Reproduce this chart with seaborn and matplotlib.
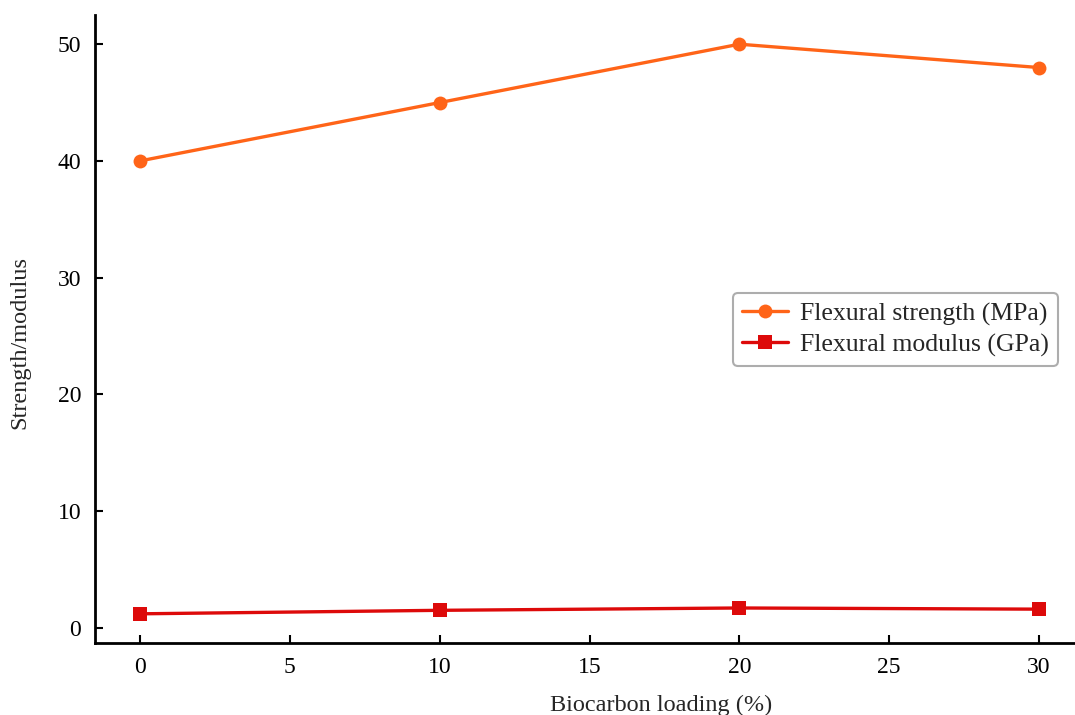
import matplotlib
matplotlib.use("Agg")
import matplotlib.pyplot as plt
import seaborn as sns
import pandas as pd

loading = [0, 10, 20, 30]
strength = [40.0, 45.0, 50.0, 48.0]
modulus = [1.2, 1.5, 1.7, 1.6]
series_names = ["Flexural strength (MPa)", "Flexural modulus (GPa)"]
x_ticks = [0, 5, 10, 15, 20, 25, 30]
y_ticks = [0, 10, 20, 30, 40, 50]

sns.set_style("white")
plt.rcParams["font.family"] = ["Liberation Serif", "DejaVu Serif"]

df = pd.DataFrame({
    "loading": loading * 2,
    "value": strength + modulus,
    "series": [series_names[0]] * 4 + [series_names[1]] * 4,
})

fig = plt.figure(figsize=(10.75, 7.15), dpi=100)
ax = fig.add_axes([0.0884, 0.1007, 0.9116, 0.8783])

palette = {series_names[0]: "#FF6418", series_names[1]: "#DD0A0A"}
markers = {series_names[0]: "o", series_names[1]: "s"}
sns.lineplot(data=df, x="loading", y="value", hue="series", style="series",
             palette=palette, markers=markers, dashes=False, markersize=10,
             linewidth=2.4, markeredgewidth=0, ax=ax)

ax.set_xlim(-1.5, 31.2)
ax.set_ylim(-1.3, 52.5)
ax.set_xticks(x_ticks)
ax.set_yticks(y_ticks)
ax.tick_params(axis="both", which="major", bottom=True, left=True,
               direction="in", length=6, width=1.5, labelsize=17,
               colors="black", pad=10)
for side in ["top", "right"]:
    ax.spines[side].set_visible(False)
for side in ["left", "bottom"]:
    ax.spines[side].set_linewidth(2)
    ax.spines[side].set_color("black")

ax.set_xlabel("Biocarbon loading (%)", fontsize=17.5)
ax.xaxis.set_label_coords(0.578, -0.083)
ax.set_ylabel("Strength/modulus", fontsize=17.5)
ax.yaxis.set_label_coords(-0.066, 0.478)

leg = ax.legend(title=None, loc="upper left", bbox_to_anchor=(0.651, 0.557),
                fontsize=18.5, frameon=True, fancybox=True, edgecolor="#999999",
                handlelength=1.8, handletextpad=0.45, borderpad=0.35,
                labelspacing=0.3, borderaxespad=0)
leg.get_frame().set_linewidth(1.5)

fig.savefig("out.png", dpi=100)
